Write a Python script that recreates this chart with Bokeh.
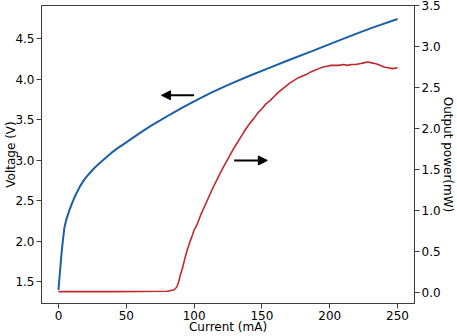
from bokeh.plotting import figure
from bokeh.models import Range1d, LinearAxis, FixedTicker, NumeralTickFormatter, Arrow, NormalHead
from bokeh.embed import file_html
from bokeh.resources import INLINE

# ---- data ----
current_v = [0, 0.5, 1.0, 1.5, 2.0, 2.5, 3.2, 4.4, 6, 8, 10.5, 12.9, 16, 19, 22.5, 26.3, 30, 34.9,
             39, 43.4, 50, 55.6, 61, 67.8, 75, 82, 90, 100, 113, 126, 140, 155, 170, 187, 200,
             215, 230, 250]
voltage = [1.40, 1.50, 1.60, 1.70, 1.80, 1.89, 2.00, 2.17, 2.28, 2.38, 2.49, 2.58, 2.68, 2.76,
           2.83, 2.90, 2.96, 3.03, 3.09, 3.145, 3.22, 3.285, 3.345, 3.42, 3.49, 3.56, 3.635,
           3.725, 3.835, 3.935, 4.035, 4.135, 4.235, 4.345, 4.43, 4.53, 4.625, 4.74]

current_p = [0, 20, 40, 60, 80, 85, 87, 88.5, 90, 91.5, 93, 95, 97, 99, 100, 102, 105, 108, 111,
             114, 117, 120, 123, 126, 129, 132, 135, 138, 141, 144, 147, 150, 153, 156, 159, 162,
             165, 168, 171, 174, 177, 180, 183, 186, 189, 192, 195, 198, 201, 204, 207, 210, 213,
             216, 219, 222, 225, 228, 231, 234, 237, 240, 243, 246, 250]
power = [0.01, 0.01, 0.01, 0.012, 0.015, 0.03, 0.06, 0.12, 0.22, 0.30, 0.40, 0.52, 0.62, 0.71,
         0.76, 0.82, 0.95, 1.06, 1.17, 1.28, 1.38, 1.48, 1.57, 1.66, 1.75, 1.83, 1.91, 1.99, 2.06,
         2.12, 2.19, 2.24, 2.30, 2.34, 2.39, 2.44, 2.48, 2.52, 2.56, 2.59, 2.62, 2.64, 2.66, 2.69,
         2.71, 2.73, 2.75, 2.76, 2.77, 2.77, 2.77, 2.78, 2.77, 2.78, 2.78, 2.79, 2.80, 2.81, 2.80,
         2.79, 2.77, 2.75, 2.74, 2.73, 2.74]

x_ticks = [0, 50, 100, 150, 200, 250]
v_ticks = [1.5, 2.0, 2.5, 3.0, 3.5, 4.0, 4.5]
p_ticks = [0.0, 0.5, 1.0, 1.5, 2.0, 2.5, 3.0, 3.5]

# arrow annotations (data coordinates)
left_arrow = dict(x_start=100, x_end=76, y=3.80)      # voltage axis
right_arrow = dict(x_start=129.5, x_end=154, y=1.61)  # power axis

FONT = "DejaVu Sans"
FS = "12px"
BLUE = "#1b60a6"
RED = "#c0282c"
SPINE = "#3c3c3c"

p = figure(width=457, height=336, output_backend="svg", toolbar_location=None,
           x_range=Range1d(-12.5, 262.5), y_range=Range1d(1.233, 4.907),
           min_border_left=41, min_border_right=41, min_border_top=5, min_border_bottom=33)
p.extra_y_ranges = {"power": Range1d(-0.135, 3.5)}

p.line(current_v, voltage, line_color=BLUE, line_width=2)
p.line(current_p, power, line_color=RED, line_width=1.6, y_range_name="power")

p.add_layout(Arrow(end=NormalHead(size=9, fill_color="black", line_color="black"),
                   x_start=left_arrow["x_start"], y_start=left_arrow["y"],
                   x_end=left_arrow["x_end"], y_end=left_arrow["y"],
                   line_color="black", line_width=2))
p.add_layout(Arrow(end=NormalHead(size=9, fill_color="black", line_color="black"),
                   x_start=right_arrow["x_start"], y_start=right_arrow["y"],
                   x_end=right_arrow["x_end"], y_end=right_arrow["y"],
                   line_color="black", line_width=2, y_range_name="power"))

right_axis = LinearAxis(y_range_name="power", axis_label="Output power(mW)")
p.add_layout(right_axis, "right")

p.xaxis.axis_label = "Current (mA)"
p.yaxis[0].axis_label = "Voltage (V)"
p.xaxis.ticker = FixedTicker(ticks=x_ticks)
p.yaxis[0].ticker = FixedTicker(ticks=v_ticks)
right_axis.ticker = FixedTicker(ticks=p_ticks)
p.yaxis[0].formatter = NumeralTickFormatter(format="0.0")
right_axis.formatter = NumeralTickFormatter(format="0.0")

for ax in p.axis:
    ax.major_label_text_font = FONT
    ax.major_label_text_font_size = FS
    ax.major_label_text_color = "black"
    ax.axis_label_text_font = FONT
    ax.axis_label_text_font_size = FS
    ax.axis_label_text_font_style = "normal"
    ax.axis_label_text_color = "black"
    ax.axis_line_color = SPINE
    ax.major_tick_line_color = SPINE
    ax.major_tick_in = 0
    ax.major_tick_out = 5
    ax.minor_tick_line_color = None
    ax.major_label_standoff = 2
    ax.axis_label_standoff = 0

p.yaxis[0].axis_label_standoff = -6
p.xaxis.axis_label_standoff = -3
right_axis.axis_label_standoff = -3

p.xgrid.visible = False
p.ygrid.visible = False
p.outline_line_color = SPINE
p.outline_line_width = 1
p.outline_line_alpha = 1
p.background_fill_color = "white"
p.border_fill_color = "white"

open("out.html", "w").write(file_html(p, INLINE))
